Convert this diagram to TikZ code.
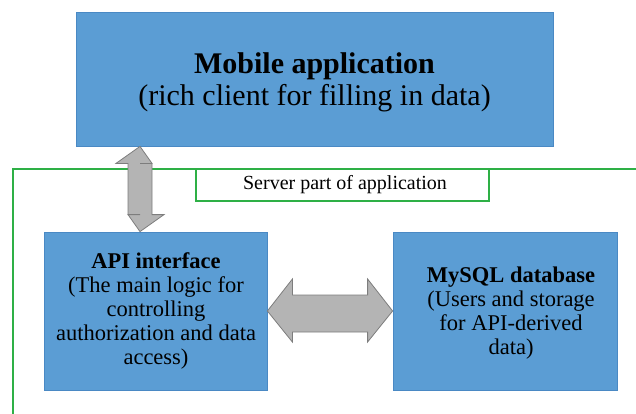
\documentclass[tikz,border=0pt]{standalone}
\usepackage{fontspec}
\setmainfont{Liberation Serif}
\definecolor{boxblue}{RGB}{91,157,212}
\definecolor{boxedge}{RGB}{74,137,196}
\definecolor{srvgreen}{RGB}{46,176,70}
\definecolor{arrowgray}{RGB}{180,180,180}
\definecolor{arrowedge}{RGB}{125,125,125}
\tikzset{
  appbox/.style={draw=boxedge, fill=boxblue, line width=0.8pt, inner sep=0pt},
  boxtext/.style={inner sep=0pt, align=center},
  blockarrow/.style={draw=arrowedge, fill=arrowgray, line width=0.8pt, line join=miter},
  srvline/.style={draw=srvgreen, line width=2pt}
}
\begin{document}
\begin{tikzpicture}
% picture measured in reference pixels, y runs downward
\begin{scope}[x=1pt, y=-1pt]
  \useasboundingbox (0,0) rectangle (636,414);
  % Server frame
  \draw[srvline] (13,414) -- (13,169) -- (636,169);
  \node[srvline, draw, fill=white, minimum width=293pt, minimum height=32pt] (srvlabel) at (342,185) {};
  \node[boxtext, font=\fontsize{20}{23}\selectfont] (srvtxt) at ([xshift=3pt]srvlabel) {Server part of application};
  % Boxes
  \node[appbox, minimum width=477pt, minimum height=134pt] (mobile) at (314.5,79) {};
  \node[boxtext, font=\fontsize{30}{32}\selectfont] (mobiletxt) at ([yshift=-3.5pt]mobile)
    {\textbf{Mobile application}\\(rich client for filling in data)};
  \node[appbox, minimum width=223pt, minimum height=158pt] (api) at (155.5,311) {};
  \node[boxtext, font=\fontsize{22.5}{24}\selectfont] (apitxt) at ([xshift=0.5pt]api)
    {\textbf{API interface}\\(The main logic for\\controlling\\authorization and data\\access)};
  \node[appbox, minimum width=224pt, minimum height=158pt] (mysql) at (505,311) {};
  \node[boxtext, font=\fontsize{22.5}{24}\selectfont] (mysqltxt) at ([xshift=6pt,yshift=-2pt]mysql)
    {\textbf{MySQL database}\\(Users and storage\\for API-derived\\data)};
  % Block arrows
  \coordinate (vtop) at (mobile.south -| 140,0);
  \coordinate (vbot) at (api.north -| 140,0);
  \draw[blockarrow] (vtop) -- ++(-24,17) -- ++(12,0) |- ([yshift=17pt]vbot)
    -- ++(-12,0) -- (vbot) -- ++(24,-17) -- ++(-12,0) |- ([yshift=-17pt]vtop)
    -- ++(12,0) -- cycle;
  \draw[blockarrow] (api.east) -- ++(25,-32) -- ++(0,16) -| ([xshift=-25pt,yshift=16pt]mysql.west)
    -- ++(0,-16) -- (mysql.west) -- ++(-25,31) -- ++(0,-10) -| ([xshift=25pt,yshift=-21pt]api.east)
    -- ++(0,10) -- cycle;
\end{scope}
\end{tikzpicture}
\end{document}
